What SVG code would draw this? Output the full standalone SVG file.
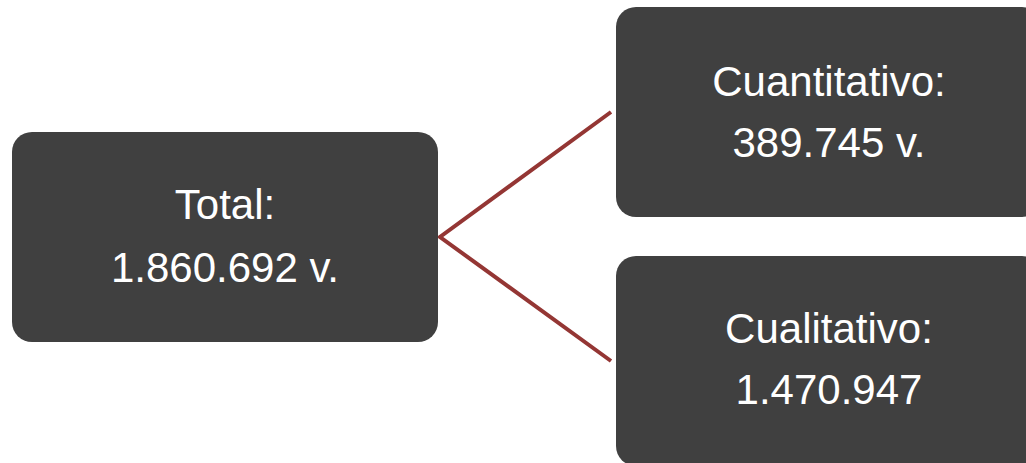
<svg xmlns="http://www.w3.org/2000/svg" width="1026" height="463" viewBox="0 0 1026 463">
<style>
.box{fill:#404040;}
.t{font-family:"Liberation Sans",Arial,sans-serif;font-size:42px;fill:#ffffff;text-anchor:middle;}
.c{fill:none;stroke:#943634;stroke-width:4;}
</style>
<rect width="1026" height="463" fill="#ffffff"/>
<g id="connectors">
<polyline class="c" points="611,112 440,237 611,361"/>
</g>
<g id="total">
<rect class="box" x="12" y="132" width="426" height="210" rx="20"/>
<text class="t" x="225" y="219">Total:</text>
<text class="t" x="225" y="282">1.860.692 v.</text>
</g>
<g id="cuantitativo">
<rect class="box" x="616" y="7" width="426" height="210" rx="20"/>
<text class="t" x="829" y="96">Cuantitativo:</text>
<text class="t" x="829" y="157">389.745 v.</text>
</g>
<g id="cualitativo">
<rect class="box" x="616" y="256" width="426" height="210" rx="20"/>
<text class="t" x="829" y="343">Cualitativo:</text>
<text class="t" x="829" y="404">1.470.947</text>
</g>
</svg>
